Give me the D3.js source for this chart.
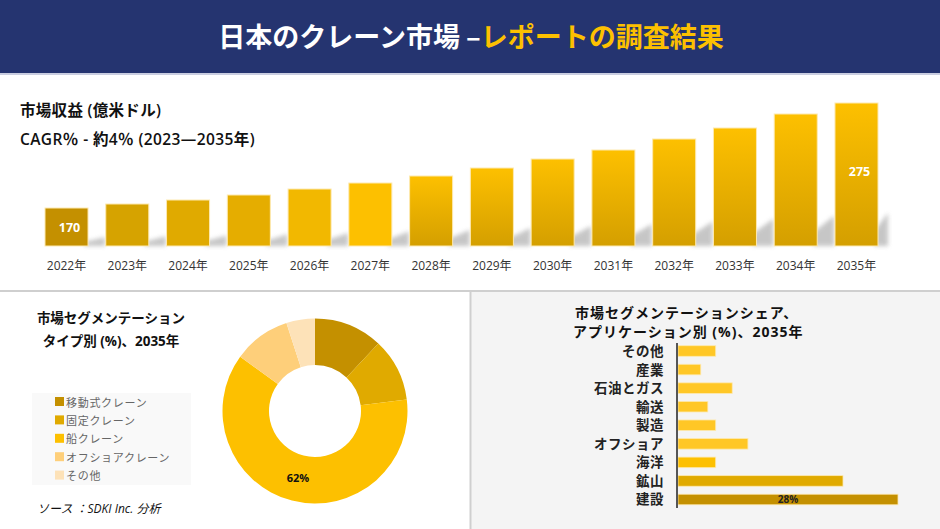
<!DOCTYPE html>
<html><head><meta charset="utf-8">
<script src="https://cdn.jsdelivr.net/npm/d3@7/dist/d3.min.js"></script>
<style>
html,body{margin:0;padding:0;background:#fff;}
svg{display:block;font-family:"Open Sans","Noto Sans CJK JP",sans-serif;}
</style></head>
<body>
<script>
const years = ["2022年","2023年","2024年","2025年","2026年","2027年","2028年","2029年","2030年","2031年","2032年","2033年","2034年","2035年"];
const revenue = [170,174,178,183,189,195,202,210,219,228,239,250,264,275];
const barLabels = {"2022年":"170","2035年":"275"};

const typeNames = ["移動式クレーン","固定クレーン","船クレーン","オフショアクレーン","その他"];
const typeShares = [12,11,62,10,5];
const typeColors = ["#c49000","#e0aa00","#fdc000","#fecf7a","#fde2b8"];

const appNames = ["その他","産業","石油とガス","輸送","製造","オフショア","海洋","鉱山","建設"];
const appShares = [4.8,2.9,6.9,3.8,4.8,8.9,4.8,21,28];
const appColors = ["#ffc726","#ffc726","#ffc726","#ffc726","#ffc726","#ffc726","#fdc000","#e0aa00","#c49000"];

const W=940,H=529;
const svg=d3.select("body").append("svg").attr("width",W).attr("height",H);
const defs=svg.append("defs");
const grad=defs.append("linearGradient").attr("id","bg").attr("x1",0).attr("y1",0).attr("x2",0).attr("y2",1);
grad.append("stop").attr("offset","0%").attr("stop-color","#fdc000");
grad.append("stop").attr("offset","100%").attr("stop-color","#d49f00");
const blur=defs.append("filter").attr("id","blur").attr("x","-50%").attr("y","-50%").attr("width","200%").attr("height","200%");
blur.append("feGaussianBlur").attr("stdDeviation",2);

// backgrounds
svg.append("rect").attr("x",0).attr("y",0).attr("width",W).attr("height",H).attr("fill","#fff");
svg.append("rect").attr("x",471).attr("y",292).attr("width",469).attr("height",237).attr("fill","#f4f4f4");
svg.append("rect").attr("x",0).attr("y",290).attr("width",W).attr("height",2).attr("fill","#cfcfcf");
svg.append("rect").attr("x",469.5).attr("y",291).attr("width",2).attr("height",238).attr("fill","#cfcfcf");

// header
svg.append("rect").attr("x",0).attr("y",0).attr("width",W).attr("height",73).attr("fill","#253470");
svg.append("rect").attr("x",0).attr("y",73).attr("width",W).attr("height",2).attr("fill","#c9cde0");
const title=svg.append("text").attr("x",471).attr("y",47).attr("text-anchor","middle")
  .attr("font-size",27).attr("font-weight","bold").attr("font-family","'Noto Sans CJK JP',sans-serif");
title.append("tspan").attr("fill","#fff").text("日本のクレーン市場 –");
title.append("tspan").attr("fill","#fdc000").text("レポートの調査結果");

// top-left text
svg.append("text").attr("x",20).attr("y",116).attr("font-size",15.5).attr("fill","#111").attr("font-weight",600).attr("letter-spacing",0.3).text("市場収益 (億米ドル)");
svg.append("text").attr("x",20).attr("y",145).attr("font-size",15.5).attr("fill","#111").attr("font-weight",600).attr("letter-spacing",0.4).text("CAGR％ - 約4％ (2023—2035年)");

// revenue bars
const x=d3.scaleBand().domain(years).range([45,878]).paddingInner(0.292).paddingOuter(0);
const y=d3.scaleLinear().domain([132,275]).range([246,103]);
const flatCols={"2022年":"#c49000","2023年":"#d6a300","2024年":"#e0aa00","2025年":"#e5ad00","2026年":"#f2b800","2027年":"#fdc000"};
const gb=svg.append("g");
years.forEach((yr,i)=>{
  const bx=x(yr),bw=x.bandwidth(),by=y(revenue[i]),bh=246-by;
  const sh=bh*0.23;
  const dx = i===years.length-1 ? 10 : 17;
  gb.append("polygon").attr("points",[[bx+bw-4,246],[bx+bw-4,246-sh*0.45],[bx+bw+dx,246-sh],[bx+bw+dx,246]].map(p=>p.join(",")).join(" "))
    .attr("fill","#bdbdbd").attr("opacity",0.85).attr("filter","url(#blur)");
});
years.forEach((yr,i)=>{
  const bx=x(yr),bw=x.bandwidth(),by=y(revenue[i]);
  gb.append("rect").attr("x",bx).attr("y",by).attr("width",bw).attr("height",246-by)
    .attr("fill",flatCols[yr]||"url(#bg)").attr("stroke","#fde9b0").attr("stroke-width",1);
  gb.append("text").attr("x",bx+bw/2).attr("y",270).attr("text-anchor","middle").attr("font-size",12).attr("fill","#333").text(yr);
  if(barLabels[yr]){
    const ly = yr==="2022年" ? 232 : 176;
    gb.append("text").attr("x",bx+bw/2+3).attr("y",ly).attr("text-anchor","middle").attr("font-size",12.5)
      .attr("font-weight","bold").attr("fill","#fff").text(barLabels[yr]);
  }
});

// donut section
svg.append("text").attr("x",111).attr("y",323).attr("text-anchor","middle").attr("font-size",13.5).attr("font-weight","bold").attr("fill","#111").text("市場セグメンテーション");
svg.append("text").attr("x",111).attr("y",346).attr("text-anchor","middle").attr("font-size",13.5).attr("font-weight","bold").attr("fill","#111").text("タイプ別 (%)、2035年");

svg.append("rect").attr("x",32).attr("y",393).attr("width",159).attr("height",92).attr("fill","#f9f9f9");
const lg=svg.append("g");
typeNames.forEach((n,i)=>{
  const ly=402+i*18.4;
  lg.append("rect").attr("x",55).attr("y",ly-5).attr("width",9).attr("height",9).attr("fill",typeColors[i]);
  lg.append("text").attr("x",66).attr("y",ly+4.5).attr("font-size",11).attr("fill","#666").attr("letter-spacing",0.7).text(n);
});

const pie=d3.pie().sort(null).value(d=>d)(typeShares);
const arc=d3.arc().innerRadius(46).outerRadius(92.5);
const dg=svg.append("g").attr("transform","translate(315,411)");
dg.selectAll("path").data(pie).join("path").attr("d",arc).attr("fill",(d,i)=>typeColors[i]);
dg.append("text").attr("x",-17).attr("y",71).attr("text-anchor","middle").attr("font-size",11).attr("font-weight","bold").attr("fill","#111").text("62%");

svg.append("text").attr("x",37).attr("y",513).attr("font-size",12).attr("font-style","italic").attr("fill","#111").text("ソース ：SDKI Inc. 分析");

// right bar chart
svg.append("text").attr("x",575).attr("y",318).attr("font-size",14).attr("font-weight","bold").attr("fill","#111").attr("letter-spacing",1).text("市場セグメンテーションシェア、");
svg.append("text").attr("x",573).attr("y",337).attr("font-size",14).attr("font-weight","bold").attr("fill","#111").attr("letter-spacing",1).text("アプリケーション別 (%)、2035年");

const yb=d3.scaleBand().domain(appNames).range([342,508.5]).paddingInner(0.43).paddingOuter(0.2);
const xb=d3.scaleLinear().domain([0,28]).range([678,898]);
const rg=svg.append("g");
appNames.forEach((n,i)=>{
  rg.append("rect").attr("x",xb(0)).attr("y",yb(n)).attr("width",xb(appShares[i])-xb(0)).attr("height",yb.bandwidth())
    .attr("fill",appColors[i]).attr("stroke","#fde9b0").attr("stroke-width",0.8);
  rg.append("text").attr("x",664).attr("y",yb(n)+yb.bandwidth()/2+5).attr("text-anchor","end").attr("font-size",13.5)
    .attr("font-weight","bold").attr("fill","#222").attr("letter-spacing",0.5).text(n);
});
rg.append("line").attr("x1",677).attr("x2",677).attr("y1",343).attr("y2",508).attr("stroke","#555").attr("stroke-width",2);
rg.append("text").attr("x",(xb(0)+xb(28))/2).attr("y",yb("建設")+yb.bandwidth()/2+4).attr("text-anchor","middle")
  .attr("font-size",10).attr("font-weight","bold").attr("fill","#222").text("28%");
</script>
</body></html>
